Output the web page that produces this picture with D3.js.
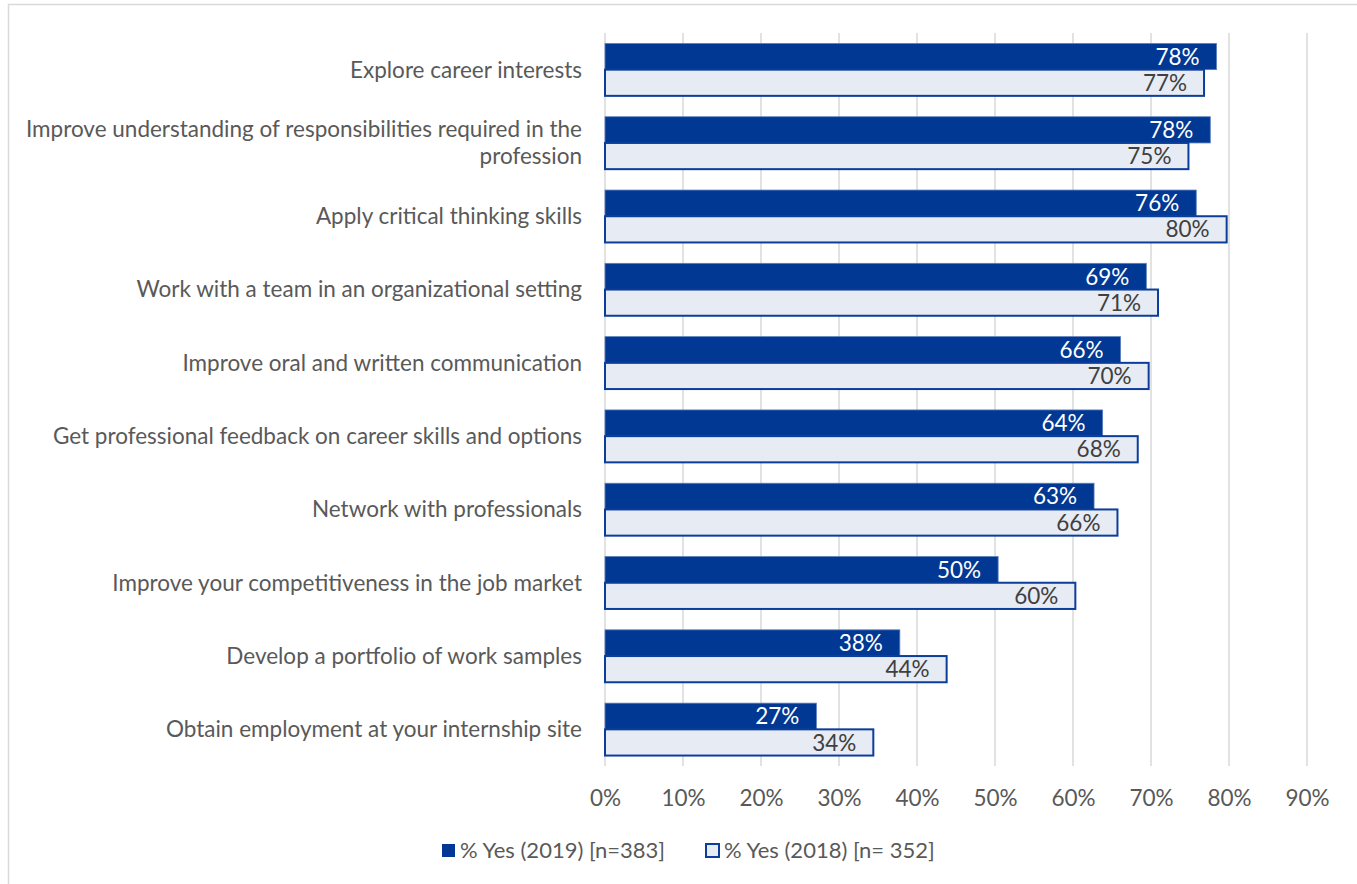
<!DOCTYPE html>
<html>
<head>
<meta charset="utf-8">
<script src="https://cdn.jsdelivr.net/npm/d3@7"></script>
<style>
  html, body { margin: 0; padding: 0; background: #fff; }
  svg { display: block; }
  text { font-family: Lato, "Open Sans", sans-serif; }
</style>
</head>
<body>
<svg id="chart" width="1357" height="884"></svg>
<script>
// Survey items, top to bottom
const categories = [
  ["Explore career interests"],
  ["Improve understanding of responsibilities required in the", "profession"],
  ["Apply critical thinking skills"],
  ["Work with a team in an organizational setting"],
  ["Improve oral and written communication"],
  ["Get professional feedback on career skills and options"],
  ["Network with professionals"],
  ["Improve your competitiveness in the job market"],
  ["Develop a portfolio of work samples"],
  ["Obtain employment at your internship site"]
];

// Share answering "yes", in percent
const yes2019 = [78.4, 77.6, 75.8, 69.4, 66.1, 63.8, 62.7, 50.4, 37.8, 27.1];
const yes2018 = [76.8, 74.8, 79.7, 70.9, 69.7, 68.3, 65.7, 60.3, 43.8, 34.4];

const seriesNames = ["% Yes (2019) [n=383]", "% Yes (2018) [n= 352]"];
const xTicks = [0, 10, 20, 30, 40, 50, 60, 70, 80, 90];

const svg = d3.select("#chart");
const plotLeft = 605, plotRight = 1307, plotTop = 33, plotBottom = 766;

// chart frame
svg.append("rect")
  .attr("x", 8.5).attr("y", 4.5)
  .attr("width", 1400).attr("height", 900)
  .attr("fill", "none").attr("stroke", "#d9d9d9").attr("stroke-width", 1.5);

const x = d3.scaleLinear().domain([0, 90]).range([plotLeft, plotRight]);
const y = d3.scaleBand()
  .domain(d3.range(categories.length))
  .range([plotTop, plotBottom])
  .paddingInner(0.285).paddingOuter(0.1425);
const ySub = d3.scaleBand().domain([0, 1]).range([0, y.bandwidth()]);

// vertical gridlines
svg.append("g").selectAll("line").data(xTicks).join("line")
  .attr("x1", d => x(d)).attr("x2", d => x(d))
  .attr("y1", plotTop).attr("y2", plotBottom)
  .attr("stroke", "#d9d9d9").attr("stroke-width", 1.5);

// x axis labels
const xAxis = d3.axisBottom(x).tickValues(xTicks).tickFormat(d => d + "%").tickSize(0).tickPadding(0);
const gx = svg.append("g").attr("transform", `translate(0,${plotBottom})`).call(xAxis);
gx.select(".domain").remove();
gx.selectAll("text")
  .attr("y", 32).attr("dy", "0.35em")
  .attr("fill", "#595959").style("font-size", "22.5px")
  .style("font-family", "Lato, 'Open Sans', sans-serif");

// category labels
const cat = svg.append("g").selectAll("text").data(categories).join("text")
  .attr("text-anchor", "end")
  .attr("fill", "#595959").style("font-size", "22.5px");
cat.each(function(lines, i) {
  const cy = y(i) + y.bandwidth() / 2;
  const lh = 27;
  const t = d3.select(this);
  lines.forEach((ln, j) => {
    t.append("tspan")
      .attr("x", 582)
      .attr("y", cy + (j - (lines.length - 1) / 2) * lh)
      .attr("dy", "0.35em")
      .text(ln);
  });
});

const fmt = d => Math.round(d) + "%";

// 2019 bars
const g19 = svg.append("g");
g19.selectAll("rect").data(yes2019).join("rect")
  .attr("x", x(0))
  .attr("y", (d, i) => y(i) + ySub(0))
  .attr("width", d => x(d) - x(0))
  .attr("height", ySub.bandwidth())
  .attr("fill", "#003893")
  .attr("stroke", "#5a7dbb").attr("stroke-width", 0.8);
g19.selectAll("text").data(yes2019).join("text")
  .attr("x", d => x(d) - 17)
  .attr("y", (d, i) => y(i) + ySub(0) + ySub.bandwidth() / 2)
  .attr("dy", "0.36em")
  .attr("text-anchor", "end")
  .attr("fill", "#ffffff").style("font-size", "22.5px")
  .text(fmt);

// 2018 bars
const g18 = svg.append("g");
g18.selectAll("rect").data(yes2018).join("rect")
  .attr("x", x(0))
  .attr("y", (d, i) => y(i) + ySub(1))
  .attr("width", d => x(d) - x(0))
  .attr("height", ySub.bandwidth())
  .attr("fill", "#e7ebf4")
  .attr("stroke", "#0b3d9a").attr("stroke-width", 2);
g18.selectAll("text").data(yes2018).join("text")
  .attr("x", d => x(d) - 17)
  .attr("y", (d, i) => y(i) + ySub(1) + ySub.bandwidth() / 2)
  .attr("dy", "0.36em")
  .attr("text-anchor", "end")
  .attr("fill", "#404040").style("font-size", "22.5px")
  .text(fmt);

// legend
const legend = svg.append("g");
const legendItems = [
  { name: seriesNames[0], x: 441, fill: "#003893", stroke: "#003893", sw: 0 },
  { name: seriesNames[1], x: 705, fill: "#e7ebf4", stroke: "#0b3d9a", sw: 2 }
];
legendItems.forEach(it => {
  legend.append("rect")
    .attr("x", it.x + 1).attr("y", 844)
    .attr("width", 13).attr("height", 13)
    .attr("fill", it.fill).attr("stroke", it.stroke).attr("stroke-width", it.sw);
  legend.append("text")
    .attr("x", it.x + 19).attr("y", 850).attr("dy", "0.35em")
    .attr("fill", "#595959").style("font-size", "22px")
    .text(it.name);
});
</script>
</body>
</html>
